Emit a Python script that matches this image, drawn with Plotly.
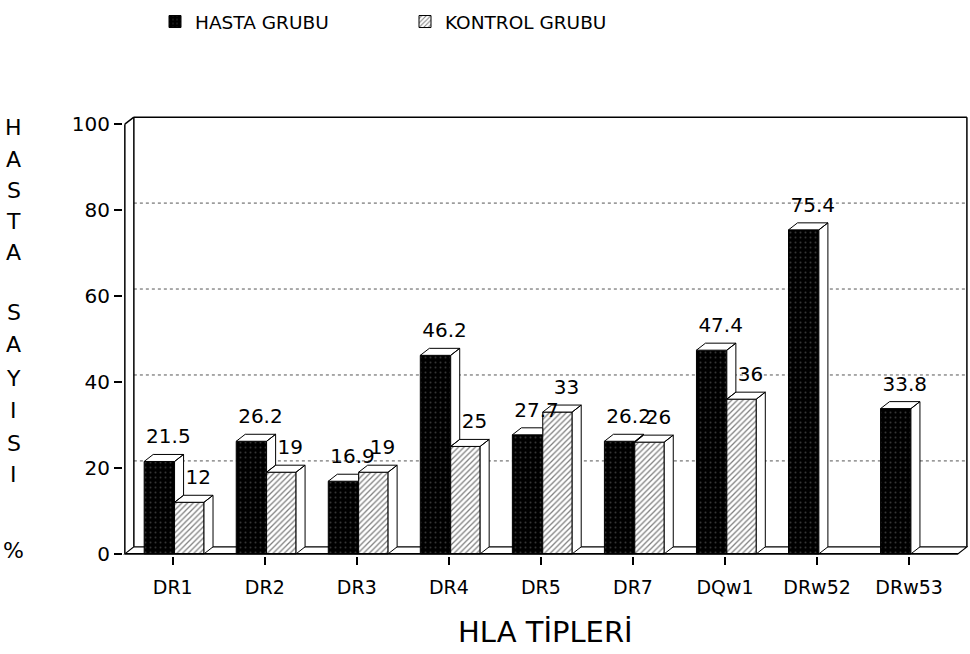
import plotly.graph_objects as go

# ---------------- data ----------------
categories = ["DR1", "DR2", "DR3", "DR4", "DR5", "DR7", "DQw1", "DRw52", "DRw53"]
hasta = [21.5, 26.2, 16.9, 46.2, 27.7, 26.2, 47.4, 75.4, 33.8]
kontrol = [12, 19, 19, 25, 33, 26, 36, None, None]
hasta_labels = ["21.5", "26.2", "16.9", "46.2", "27.7", "26.2", "47.4", "75.4", "33.8"]
kontrol_labels = ["12", "19", "19", "25", "33", "26", "36", "", ""]
y_ticks = [0, 20, 40, 60, 80, 100]
grid_vals = [20, 40, 60, 80]

# ---------------- style / geometry ----------------
FONT = "DejaVu Sans"
H_OFF, H_W = -0.31, 0.33     # hasta bar offset / width (category units)
K_OFF, K_W = 0.02, 0.32      # kontrol bar offset / width
DX, DY = 0.098, 1.63         # 3-D depth offset (x units, y units)
XL, XR = -0.52, 8.53         # front floor edges
X_RANGE = [-0.54, 8.64]
Y_RANGE = [-0.5, 100 + DY + 0.5]
W, H = 970, 654
ML, MR, MT, MB = 123, 2, 115, 98

xs = list(range(len(categories)))

fig = go.Figure()

fig.add_trace(go.Bar(
    x=xs, y=hasta, offset=H_OFF, width=H_W, name="HASTA GRUBU",
    marker=dict(color="black", line=dict(color="black", width=1),
                pattern=dict(shape=".", fgcolor="#6a6a6a", bgcolor="black",
                             size=5, solidity=0.12)),
    hoverinfo="x+y"))
fig.add_trace(go.Bar(
    x=xs, y=kontrol, offset=K_OFF, width=K_W,
    name="KONTROL GRUBU",
    marker=dict(color="white", line=dict(color="black", width=1),
                pattern=dict(shape="/", fgcolor="black", bgcolor="white",
                             size=4, solidity=0.32)),
    hoverinfo="x+y"))

# 3-D top and side faces derived from the data
px_, py_ = [], []   # polygons (None separated)


def poly(pts):
    for (a, b) in pts:
        px_.append(a)
        py_.append(b)
    px_.append(pts[0][0])
    py_.append(pts[0][1])
    px_.append(None)
    py_.append(None)


for i, h in enumerate(hasta):
    x0 = i + H_OFF
    x1 = x0 + H_W
    k = kontrol[i] if kontrol[i] is not None else 0
    if kontrol[i] is not None and k >= h:
        poly([(x0, h), (x0 + DX, h + DY), (x1, h + DY), (x1, h)])
    else:
        poly([(x0, h), (x0 + DX, h + DY), (x1 + DX, h + DY), (x1, h)])
        poly([(x1, k), (x1 + DX, k + DY), (x1 + DX, h + DY), (x1, h)])

for i, k in enumerate(kontrol):
    if k is None:
        continue
    x0 = i + K_OFF
    x1 = x0 + K_W
    poly([(x0, k), (x0 + DX, k + DY), (x1 + DX, k + DY), (x1, k)])
    poly([(x1, 0), (x1 + DX, DY), (x1 + DX, k + DY), (x1, k)])

fig.add_trace(go.Scatter(
    x=px_, y=py_, mode="lines", fill="toself", fillcolor="white",
    line=dict(color="black", width=1), showlegend=False, hoverinfo="skip"))

# value labels
fig.add_trace(go.Scatter(
    x=[i + H_OFF + H_W / 2 + DX for i in xs],
    y=[h + DY + 1.4 for h in hasta],
    mode="text", text=hasta_labels, textposition="top center",
    textfont=dict(family=FONT, size=20, color="black"),
    showlegend=False, hoverinfo="skip", cliponaxis=False))
kx, ky, kt = [], [], []
for i, k in enumerate(kontrol):
    if k is None:
        continue
    kx.append(i + K_OFF + K_W / 2 + DX)
    ky.append(k + DY + 1.4)
    kt.append(kontrol_labels[i])
fig.add_trace(go.Scatter(
    x=kx, y=ky, mode="text", text=kt, textposition="top center",
    textfont=dict(family=FONT, size=20, color="black"),
    showlegend=False, hoverinfo="skip", cliponaxis=False))

# ---------------- frame (walls, floor, grid) ----------------
shapes = []
ln = dict(color="black", width=1.5)
shapes.append(dict(type="path", xref="x", yref="y", layer="below",
                   path=f"M {XL},0 L {XL+DX},{DY} L {XR+DX},{DY} L {XR},0 Z",
                   fillcolor="white", line=dict(color="black", width=1.2)))
for v in grid_vals:
    shapes.append(dict(type="line", xref="x", yref="y", layer="below",
                       x0=XL + DX, x1=XR + DX, y0=v + DY, y1=v + DY,
                       line=dict(color="#555", width=1, dash="dot")))
shapes += [
    dict(type="line", xref="x", yref="y", x0=XL + DX, x1=XR + DX, y0=100 + DY, y1=100 + DY, line=ln, layer="below"),
    dict(type="line", xref="x", yref="y", x0=XL + DX, x1=XL + DX, y0=DY, y1=100 + DY, line=ln, layer="below"),
    dict(type="line", xref="x", yref="y", x0=XR + DX, x1=XR + DX, y0=DY, y1=100 + DY, line=ln, layer="below"),
    dict(type="line", xref="x", yref="y", x0=XL, x1=XL, y0=0, y1=100, line=ln, layer="below"),
    dict(type="line", xref="x", yref="y", x0=XL, x1=XL + DX, y0=100, y1=100 + DY, line=ln, layer="below"),
    dict(type="line", xref="x", yref="y", x0=XL, x1=XR, y0=0, y1=0, line=ln, layer="above"),
]

# ---------------- vertical y title ----------------
pw = W - ML - MR
ph = H - MT - MB
letters = ["H", "A", "S", "T", "A", "S", "A", "Y", "I", "S", "I", "%"]
letter_y = [127, 159, 190, 221, 252, 312, 344, 378, 411, 443, 474, 550]
annotations = []
for ch, yy in zip(letters, letter_y):
    annotations.append(dict(
        text=ch, xref="paper", yref="paper",
        x=(14 - ML) / pw, y=(H - MB - yy) / ph,
        xanchor="center", yanchor="middle", showarrow=False,
        font=dict(family=FONT, size=22, color="black")))
annotations.append(dict(
    text="HLA TİPLERİ", xref="paper", yref="paper",
    x=(545 - ML) / pw, y=(H - MB - 632) / ph, xanchor="center", yanchor="middle",
    showarrow=False, font=dict(family=FONT, size=29, color="black")))

fig.update_layout(
    width=W, height=H,
    margin=dict(l=ML, r=MR, t=MT, b=MB),
    paper_bgcolor="white", plot_bgcolor="white",
    barmode="overlay",
    font=dict(family=FONT, color="black"),
    shapes=shapes, annotations=annotations,
    showlegend=True,
    legend=dict(orientation="h", x=(155 - ML) / pw, y=(H - MB - 3) / ph,
                xanchor="left", yanchor="top",
                font=dict(family=FONT, size=18.5, color="black"),
                entrywidth=205, entrywidthmode="pixels",
                bgcolor="rgba(0,0,0,0)"),
    xaxis=dict(range=X_RANGE, tickvals=xs, ticktext=categories,
               showgrid=False, zeroline=False, showline=False,
               ticks="outside", ticklen=8, tickwidth=1.5, tickcolor="black",
               ticklabelstandoff=6,
               tickfont=dict(family=FONT, size=19, color="black")),
    yaxis=dict(range=Y_RANGE, tickvals=y_ticks,
               showgrid=False, zeroline=False, showline=False,
               ticks="outside", ticklen=8, tickwidth=1.5, tickcolor="black",
               tickfont=dict(family=FONT, size=20, color="black")),
)

fig.write_html("out.html",
               config={"displayModeBar": False},
               post_script="document.body.style.margin='0';"
                           "document.body.style.overflow='hidden';")
